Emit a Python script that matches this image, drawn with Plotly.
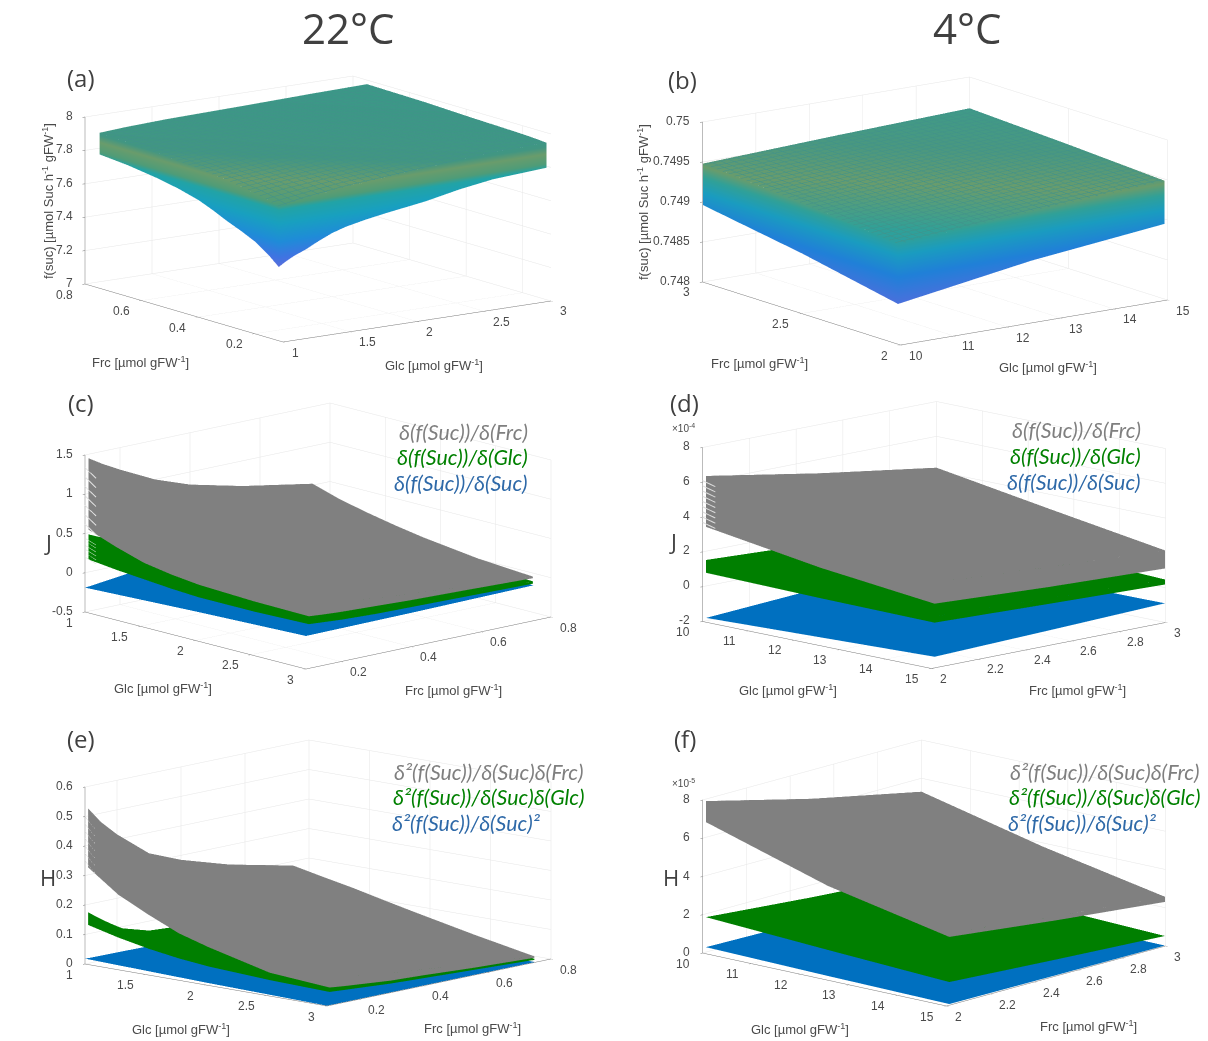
import math
import plotly.graph_objects as go

W, H = 1208, 1041
SCENE_W, SCENE_H = 540, 330
EYE_DIST = 2.0
PX_PER_UNIT = 165.0

# ---- grids ----
GLC_A = [1.004, 1.2, 1.5, 1.8, 2.1, 2.6, 3]
FRC_A = [0.116, 0.15, 0.2, 0.3, 0.4, 0.55, 0.75]
GLC_22 = [1, 1.25, 1.5, 1.75, 2, 2.5, 2.995]
FRC_22 = [0.11, 0.15, 0.2, 0.3, 0.4, 0.55, 0.75]
FRC_22G = [0.11, 0.2, 0.3, 0.75]
GLC_22C = [1, 2, 3]
FRC_22C = [0.1, 0.4, 0.75]
GLC_4B = [10.01, 12.5, 15]
GLC_4 = [10, 12.5, 14.99]
FRC_4 = [2.015, 2.5, 3]

A_TOP = [[7.80,7.82,7.84,7.87,7.89,7.91,7.93],
         [7.83,7.84,7.86,7.88,7.90,7.92,7.94],
         [7.86,7.87,7.88,7.90,7.92,7.93,7.95],
         [7.88,7.89,7.90,7.92,7.93,7.94,7.955],
         [7.90,7.91,7.92,7.93,7.94,7.95,7.96],
         [7.93,7.935,7.94,7.95,7.955,7.96,7.97],
         [7.94,7.945,7.95,7.955,7.96,7.97,7.976]]
# the two edges of the stack in (a) that face the viewer
A_EDGE_GLC = [1, 1.06, 1.12, 1.2, 1.3, 1.4, 1.5, 1.65, 1.8, 2.1, 2.35, 2.6, 3]
A_EDGE_GLC_TOP = [7.80,7.81,7.82,7.83,7.84,7.85,7.86,7.87,7.88,7.90,7.915,7.93,7.94]
A_EDGE_GLC_BOT = [7.44,7.47,7.495,7.52,7.56,7.595,7.62,7.645,7.665,7.70,7.74,7.77,7.79]
A_EDGE_FRC = [0.116,0.13,0.15,0.175,0.2,0.25,0.3,0.35,0.4,0.475,0.55,0.65,0.75]
A_EDGE_FRC_TOP = [7.80,7.81,7.82,7.83,7.84,7.855,7.87,7.88,7.89,7.90,7.91,7.92,7.93]
A_EDGE_FRC_BOT = [7.44,7.46,7.49,7.52,7.55,7.59,7.625,7.665,7.70,7.735,7.76,7.785,7.80]

B_TOP = [[0.74925,0.74938,0.74948],[0.74938,0.74948,0.74955],[0.74948,0.74955,0.74961]]
B_BOT = [[0.74850,0.74875,0.74896],[0.74876,0.74900,0.74915],[0.74894,0.74912,0.74925]]

C_GRAY_TOP = [[1.45,1.34,1.22,1.0,0.84,0.68,0.52],
              [1.17,1.08,0.99,0.82,0.69,0.55,0.41],
              [1.0,0.93,0.86,0.72,0.6,0.47,0.33],
              [0.84,0.78,0.72,0.61,0.51,0.39,0.26],
              [0.72,0.67,0.62,0.52,0.43,0.32,0.2],
              [0.5,0.46,0.42,0.35,0.29,0.21,0.11],
              [0.32,0.29,0.26,0.21,0.17,0.12,0.06]]
C_GRAY_BOT = [[0.54,0.53,0.52,0.5,0.48,0.46,0.45],
              [0.41,0.40,0.39,0.37,0.36,0.34,0.32],
              [0.30,0.29,0.28,0.27,0.27,0.26,0.25],
              [0.24,0.235,0.23,0.22,0.21,0.2,0.19],
              [0.2,0.195,0.19,0.18,0.175,0.16,0.14],
              [0.17,0.16,0.15,0.13,0.12,0.1,0.08],
              [0.16,0.145,0.13,0.11,0.09,0.07,0.04]]
C_GREEN_TOP = [[0.48,0.30,0.2,0.05],[0.36,0.25,0.17,0.045],[0.28,0.21,0.15,0.04],[0.23,0.18,0.13,0.035],
               [0.19,0.15,0.11,0.03],[0.14,0.11,0.08,0.02],[0.12,0.09,0.065,0.0]]
C_GREEN_BOT = [[0.16,0.10,0.06,0.0],[0.12,0.08,0.045,-0.005],[0.09,0.05,0.03,-0.01],[0.06,0.03,0.01,-0.015],
               [0.04,0.02,0.0,-0.02],[0.04,0.01,0.0,-0.025],[0.06,0.03,0.01,-0.03]]
C_BLUE = [[-0.19,-0.03,0.12],[-0.13,-0.07,-0.03],[-0.08,-0.07,-0.05]]

D_GRAY_TOP = [[6.33,5.2,4.2],[4.35,3.7,3.15],[2.9,2.5,2.14]]
D_GRAY_BOT = [[3.4,2.85,2.3],[2.4,2.0,1.65],[1.68,1.35,1.1]]
D_GREEN_TOP = [[1.5,1.2,0.95],[1.15,0.95,0.7],[0.95,0.7,0.47]]
D_GREEN_BOT = [[0.76,0.55,0.4],[0.65,0.45,0.28],[0.59,0.38,0.18]]
D_BLUE = [[-1.83,-1.4,-1.0],[-1.6,-1.3,-0.95],[-1.37,-1.15,-0.9]]

E_GRAY_TOP = [[0.525,0.47,0.417,0.33,0.285,0.235,0.186],
              [0.41,0.375,0.335,0.275,0.24,0.2,0.165],
              [0.32,0.295,0.27,0.23,0.205,0.175,0.145],
              [0.25,0.235,0.215,0.19,0.17,0.145,0.122],
              [0.20,0.19,0.175,0.155,0.14,0.12,0.10],
              [0.13,0.125,0.115,0.10,0.09,0.075,0.058],
              [0.09,0.085,0.08,0.065,0.055,0.04,0.02]]
E_GRAY_BOT = [[0.325,0.305,0.29,0.26,0.235,0.205,0.172],
              [0.25,0.24,0.23,0.21,0.195,0.175,0.155],
              [0.20,0.19,0.185,0.17,0.16,0.15,0.135],
              [0.155,0.15,0.145,0.135,0.13,0.12,0.11],
              [0.125,0.12,0.115,0.11,0.105,0.095,0.09],
              [0.075,0.072,0.07,0.065,0.06,0.055,0.05],
              [0.06,0.055,0.05,0.04,0.035,0.025,0.015]]
E_GREEN_TOP = [[0.173,0.10,0.068,0.035],[0.13,0.09,0.062,0.032],[0.105,0.08,0.06,0.03],[0.088,0.07,0.055,0.027],
               [0.075,0.065,0.05,0.025],[0.062,0.055,0.045,0.02],[0.057,0.048,0.038,0.012]]
E_GREEN_BOT = [[0.13,0.085,0.06,0.03],[0.105,0.075,0.055,0.028],[0.085,0.065,0.05,0.025],[0.07,0.055,0.045,0.022],
               [0.06,0.05,0.04,0.02],[0.05,0.043,0.035,0.015],[0.045,0.038,0.03,0.008]]
E_BLUE = [[0.018,0.014,0.01],[0.008,0.007,0.005],[0.001,0.001,0.001]]

F_GRAY_TOP = [[7.9,6.5,5.3],[5.6,4.7,3.8],[3.8,3.1,2.57]]
F_GRAY_BOT = [[6.8,5.9,4.9],[4.85,4.2,3.55],[3.56,2.9,2.3]]
F_GREEN = [[1.83,1.35,0.95],[1.5,1.05,0.72],[1.2,0.85,0.52]]
F_BLUE = [[0.26,0.17,0.1],[0.14,0.09,0.06],[0.05,0.03,0.02]]

# notches left by the individual layers at the left end of the stacks
C_GRAY_TEETH = [0.62, 0.74, 0.86, 0.98, 1.10, 1.22, 1.34]
C_GREEN_TEETH = [0.2, 0.25, 0.3, 0.35, 0.4, 0.44]
D_GRAY_TEETH = [3.7, 4.0, 4.3, 4.6, 4.9, 5.2, 5.5, 5.8, 6.1]
E_GRAY_TEETH = [0.35, 0.375, 0.40, 0.425, 0.45, 0.475, 0.50]

GRAY, GREEN, BLUE = "#808080", "#007f00", "#0070c0"
HEAD = "#404040"
TICK = "#4a4a4a"

PARULA_A = [[0.0,"#5a6edc"],[0.1,"#3f74e2"],[0.28,"#1f8cd8"],[0.48,"#18a0c0"],[0.63,"#22a3a6"],[0.69,"#4f9c78"],
            [0.80,"#6a9c6c"],[0.88,"#429682"],[1.0,"#3a9888"]]
PARULA_B = [[0.0,"#4a70dc"],[0.3,"#2080d8"],[0.55,"#1a9cc0"],[0.72,"#30a098"],[0.85,"#6a9c6c"],[0.93,"#4a9880"],[1.0,"#3f9a88"]]
FLAT_LIGHT = dict(ambient=1, diffuse=0, specular=0, roughness=1, fresnel=0)


def flat(c):
    return [[0, c], [1, c]]


def transpose(t):
    return [list(r) for r in zip(*t)]


def surf(x, y, z, scale, cmin=None, cmax=None, hatch=None):
    kw = dict(cmin=cmin, cmax=cmax) if cmin is not None else {}
    if hatch:
        kw["contours"] = dict(x=dict(show=True, start=hatch[0][0], end=hatch[0][1], size=hatch[0][2], color=hatch[2], width=1),
                              y=dict(show=True, start=hatch[1][0], end=hatch[1][1], size=hatch[1][2], color=hatch[2], width=1))
    return go.Surface(x=x, y=y, z=z, colorscale=scale, showscale=False, hoverinfo="skip", lighting=FLAT_LIGHT, **kw)


def layer(glc, frc, table, scale, cmin=None, cmax=None, hatch=None):
    return surf(glc, frc, transpose(table), scale, cmin, cmax, hatch)


def wall_along_glc(glc, frc0, top, bot, scale, cmin=None, cmax=None):
    n = len(glc)
    return surf([list(glc)]*2, [[frc0]*n]*2, [list(bot), list(top)], scale, cmin, cmax)


def wall_along_frc(glc0, frc, top, bot, scale, cmin=None, cmax=None):
    m = len(frc)
    return surf([[glc0]*m]*2, [list(frc)]*2, [list(bot), list(top)], scale, cmin, cmax)


def stack(glc, frc, top, bot, scale, cmin=None, cmax=None, wall_at_glc=-1, hatch=None):
    """upper layer of a stack, closed down to its lowest layer by the two walls facing the viewer"""
    return [layer(glc, frc, top, scale, cmin, cmax, hatch),
            wall_along_glc(glc, frc[0], [r[0] for r in top], [r[0] for r in bot], scale, cmin, cmax),
            wall_along_frc(glc[wall_at_glc], frc, top[wall_at_glc], bot[wall_at_glc], scale, cmin, cmax)]


def teeth(levels, glc0, frc0, glc_tip, drop, color, width):
    return [go.Scatter3d(x=[glc0, glc_tip], y=[frc0, frc0], z=[v, v-drop], mode="lines", hoverinfo="skip",
                         line=dict(color=color, width=width)) for v in levels]


def camera_and_ratio(L, F, R, ztop_px, glc_to_front):
    fl = (F[0]-L[0], -(F[1]-L[1]))
    rf = (R[0]-F[0], -(R[1]-F[1]))
    if glc_to_front:
        X, Y = fl, rf
    else:
        X, Y = rf, (-fl[0], -fl[1])
    s2 = -X[1]*Y[1]/(X[0]*Y[0])
    sin_el = math.sqrt(s2)
    cos_el = math.sqrt(1-s2)
    phi = math.atan2(-Y[1]/sin_el, Y[0])
    Ly = Y[0]/math.cos(phi)
    Lx = X[0]/(-math.sin(phi))
    Lz = (L[1]-ztop_px)/cos_el
    eye = dict(x=EYE_DIST*math.cos(phi)*cos_el, y=EYE_DIST*math.sin(phi)*cos_el, z=EYE_DIST*sin_el)
    ratio = dict(x=Lx/PX_PER_UNIT, y=Ly/PX_PER_UNIT, z=Lz/PX_PER_UNIT)
    back = (L[0]+R[0]-F[0], L[1]+R[1]-F[1])
    cx = (L[0]+R[0])/2
    cy = (back[1]-(L[1]-ztop_px)+F[1])/2
    return eye, ratio, cx, cy


def axis(rng, vals, text):
    return dict(range=rng, autorange=False, tickmode="array", tickvals=vals, ticktext=text, title=dict(text=""),
                showbackground=False, showgrid=True, gridcolor="#e6e6e6", gridwidth=1,
                zeroline=False, showline=True, linecolor="#777777", linewidth=1,
                ticks="outside", ticklen=3, tickcolor="#777777", showticklabels=False, showspikes=False)


GLC22_T = [1, 1.5, 2, 2.5, 3]
GLC22_L = ["1", "1.5", "2", "2.5", "3"]
FRC22_T = [0.2, 0.4, 0.6, 0.8]
FRC22_L = ["0.2", "0.4", "0.6", "0.8"]
GLC4_T = [10, 11, 12, 13, 14, 15]
GLC4_L = ["10", "11", "12", "13", "14", "15"]
FRC4B_T = [2, 2.5, 3]
FRC4B_L = ["2", "2.5", "3"]
FRC4_T = [2, 2.2, 2.4, 2.6, 2.8, 3]
FRC4_L = ["2", "2.2", "2.4", "2.6", "2.8", "3"]

PANELS = {
    "scene":  dict(L=(85, 284), F=(283, 342), R=(551, 301), top=117, front=False,
                   x=([1, 3], GLC22_T, GLC22_L), y=([0.1, 0.8], FRC22_T, FRC22_L),
                   z=([7, 8], [7, 7.2, 7.4, 7.6, 7.8, 8], ["7", "7.2", "7.4", "7.6", "7.8", "8"])),
    "scene2": dict(L=(702, 282), F=(900, 345), R=(1167, 300), top=122, front=False,
                   x=([10, 15], GLC4_T, GLC4_L), y=([2, 3], FRC4B_T, FRC4B_L),
                   z=([0.748, 0.75], [0.748, 0.7485, 0.749, 0.7495, 0.75], ["0.748", "0.7485", "0.749", "0.7495", "0.75"])),
    "scene3": dict(L=(85, 612), F=(306, 669), R=(551, 617), top=455, front=True,
                   x=([1, 3], GLC22_T, GLC22_L), y=([0.1, 0.8], FRC22_T, FRC22_L),
                   z=([-0.5, 1.5], [-0.5, 0, 0.5, 1, 1.5], ["-0.5", "0", "0.5", "1", "1.5"])),
    "scene4": dict(L=(702, 621), F=(931, 668), R=(1165, 622), top=447, front=True,
                   x=([10, 15], GLC4_T, GLC4_L), y=([2, 3], FRC4_T, FRC4_L),
                   z=([-2, 8], [-2, 0, 2, 4, 6, 8], ["-2", "0", "2", "4", "6", "8"])),
    "scene5": dict(L=(85, 964), F=(327, 1006), R=(551, 959), top=787, front=True,
                   x=([1, 3], GLC22_T, GLC22_L), y=([0.1, 0.8], FRC22_T, FRC22_L),
                   z=([0, 0.6], [0, 0.1, 0.2, 0.3, 0.4, 0.5, 0.6], ["0", "0.1", "0.2", "0.3", "0.4", "0.5", "0.6"])),
    "scene6": dict(L=(702, 953), F=(946, 1006), R=(1165, 946), top=800, front=True,
                   x=([10, 15], GLC4_T, GLC4_L), y=([2, 3], FRC4_T, FRC4_L),
                   z=([0, 8], [0, 2, 4, 6, 8], ["0", "2", "4", "6", "8"])),
}

fig = go.Figure()


def add(scene, traces):
    for t in traces:
        t.scene = scene
        fig.add_trace(t)


add("scene", [layer(GLC_A, FRC_A, A_TOP, PARULA_A, 7.44, 7.98, hatch=((1, 3, 0.06), (0.1, 0.8, 0.021), "#41928a")),
              wall_along_glc(A_EDGE_GLC, FRC_A[0], A_EDGE_GLC_TOP, A_EDGE_GLC_BOT, PARULA_A, 7.44, 7.98),
              wall_along_frc(GLC_A[0], A_EDGE_FRC, A_EDGE_FRC_TOP, A_EDGE_FRC_BOT, PARULA_A, 7.44, 7.98)])
add("scene2", stack(GLC_4B, FRC_4, B_TOP, B_BOT, PARULA_B, 0.7485, 0.74961, wall_at_glc=0,
                    hatch=((10, 15, 0.15), (2, 3, 0.03), "#41928a")))

add("scene3", [layer(GLC_22C, FRC_22C, C_BLUE, flat(BLUE))])
add("scene3", stack(GLC_22, FRC_22G, C_GREEN_TOP, C_GREEN_BOT, flat(GREEN)))
add("scene3", stack(GLC_22, FRC_22, C_GRAY_TOP, C_GRAY_BOT, flat(GRAY)))
add("scene3", teeth(C_GRAY_TEETH, 1, 0.1, 1.1, 0.1, "#e4e4e4", 2))
add("scene3", teeth(C_GREEN_TEETH, 1, 0.1, 1.1, 0.05, "#cfe6cf", 1))

add("scene4", [layer(GLC_4, FRC_4, D_BLUE, flat(BLUE))])
add("scene4", stack(GLC_4, FRC_4, D_GREEN_TOP, D_GREEN_BOT, flat(GREEN)))
add("scene4", stack(GLC_4, FRC_4, D_GRAY_TOP, D_GRAY_BOT, flat(GRAY)))
add("scene4", teeth(D_GRAY_TEETH, 10, 2, 10.28, 0.2, "#dcdcdc", 2))

add("scene5", [layer(GLC_22C, FRC_22C, E_BLUE, flat(BLUE))])
add("scene5", stack(GLC_22, FRC_22G, E_GREEN_TOP, E_GREEN_BOT, flat(GREEN)))
add("scene5", stack(GLC_22, FRC_22, E_GRAY_TOP, E_GRAY_BOT, flat(GRAY)))
add("scene5", teeth(E_GRAY_TEETH, 1, 0.1, 1.08, 0.035, "#dcdcdc", 1))

add("scene6", [layer(GLC_4, FRC_4, F_BLUE, flat(BLUE)), layer(GLC_4, FRC_4, F_GREEN, flat(GREEN))])
add("scene6", stack(GLC_4, FRC_4, F_GRAY_TOP, F_GRAY_BOT, flat(GRAY)))

ann = []


def note(x, y, text, size=13, color=TICK, family="Liberation Sans", angle=0, anchor="center"):
    ann.append(dict(x=x/W, y=1-y/H, xref="paper", yref="paper", text=text, showarrow=False, textangle=angle,
                    xanchor=anchor, yanchor="middle", font=dict(family=family, size=size, color=color)))


layout = dict(width=W, height=H, margin=dict(l=0, r=0, t=0, b=0), paper_bgcolor="white", showlegend=False)
for name, p in PANELS.items():
    eye, ratio, cx, cy = camera_and_ratio(p["L"], p["F"], p["R"], p["top"], p["front"])
    x0, x1 = max(0, cx-SCENE_W/2), min(W, cx+SCENE_W/2)
    y0, y1 = max(0, cy-SCENE_H/2), min(H, cy+SCENE_H/2)
    layout[name] = dict(domain=dict(x=[x0/W, x1/W], y=[1-y1/H, 1-y0/H]),
                        camera=dict(eye=eye, up=dict(x=0, y=0, z=1), center=dict(x=0, y=0, z=0),
                                    projection=dict(type="orthographic")),
                        aspectmode="manual", aspectratio=ratio,
                        xaxis=axis(*p["x"]), yaxis=axis(*p["y"]), zaxis=axis(*p["z"]), bgcolor="rgba(0,0,0,0)")
    # tick labels, placed from the same corners and axis ranges as the scene
    L, F, R = p["L"], p["F"], p["R"]
    if p["front"]:
        runs = [("x", L, F, "right", -10, 10.5), ("y", F, R, "left", 7, 10.5)]
    else:
        runs = [("x", F, R, "left", 7, 10.5), ("y", F, L, "right", -10, 10.5)]
    for key, a, b, anch, dx, dy in runs:
        rng, vals, text = p[key]
        for v, t in zip(vals, text):
            f = (v-rng[0])/(rng[1]-rng[0])
            note(a[0]+f*(b[0]-a[0])+dx, a[1]+f*(b[1]-a[1])+dy, t, 12, anchor=anch)
    rng, vals, text = p["z"]
    for v, t in zip(vals, text):
        f = (v-rng[0])/(rng[1]-rng[0])
        note(L[0]-10, L[1]+f*(p["top"]-L[1])-1, t, 12, anchor="right")
fig.update_layout(**layout)

UNIT = "µmol gFW<sup>-1</sup>"
SUC = "f(suc) [µmol Suc h<sup>-1</sup> gFW<sup>-1</sup>]"

note(348, 28, "22°C", 42, HEAD, "Open Sans")
note(967, 28, "4°C", 42, HEAD, "Open Sans")
for x, y, t in [(81, 78, "(a)"), (682, 80, "(b)"), (81, 402, "(c)"), (684, 402, "(d)"), (81, 738, "(e)"), (685, 738, "(f)")]:
    note(x, y, t, 24, HEAD, "Open Sans")
note(48, 201, SUC, 13, angle=-90)
note(643, 202, SUC, 13, angle=-90)
for x, y, t in [(140, 362, "Frc"), (434, 365, "Glc"), (759, 363, "Frc"), (1048, 367, "Glc"), (163, 688, "Glc"), (453, 690, "Frc"),
                (788, 690, "Glc"), (1077, 690, "Frc"), (181, 1029, "Glc"), (472, 1028, "Frc"), (800, 1029, "Glc"), (1088, 1026, "Frc")]:
    note(x, y, t+" ["+UNIT+"]", 13)
for x, y, t in [(48, 542, "J"), (673, 541, "J"), (48, 877, "H"), (671, 877, "H")]:
    note(x, y, t, 22, HEAD, "Open Sans")
note(683, 428, "×10<sup>-4</sup>", 10)
note(683, 783, "×10<sup>-5</sup>", 10)

LEG_GRAY, LEG_GREEN, LEG_BLUE = "#7f7f7f", "#008000", "#2e69a8"
J_LABELS = ["δ(f(Suc))/δ(Frc)", "δ(f(Suc))/δ(Glc)", "δ(f(Suc))/δ(Suc)"]
H_LABELS = ["δ²(f(Suc))/δ(Suc)δ(Frc)", "δ²(f(Suc))/δ(Suc)δ(Glc)", "δ²(f(Suc))/δ(Suc)²"]
for labels, rx, ys, offs in [(J_LABELS, 530, (432, 457, 483), (0, 0, 0)), (J_LABELS, 1143, (430, 456, 482), (0, 0, 0)),
                             (H_LABELS, 586, (772, 797, 823), (0, 0, 43)), (H_LABELS, 1202, (772, 797, 823), (0, 0, 43))]:
    for lab, col, y, off in zip(labels, (LEG_GRAY, LEG_GREEN, LEG_BLUE), ys, offs):
        note(rx-off, y, "<i>"+lab+"</i>", 21.3, col, "Lato", anchor="right")
fig.update_layout(annotations=ann)

fig.write_html("out.html", config={"displayModeBar": False}, post_script="document.body.style.margin='0';")
